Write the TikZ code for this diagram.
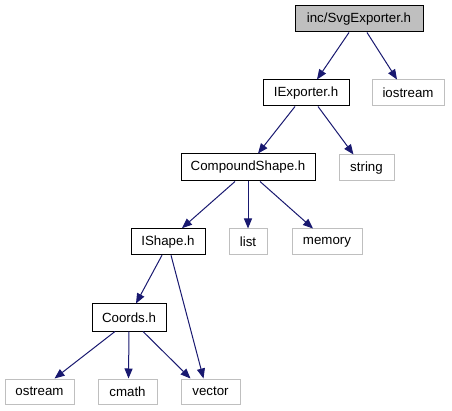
\documentclass[tikz,border=0pt]{standalone}
\usepackage{fontspec}
\setmainfont{Liberation Sans}
\usetikzlibrary{arrows.meta}
\definecolor{edgeblue}{HTML}{191970}
\definecolor{sysgray}{HTML}{BFBFBF}
\begin{document}
\begin{tikzpicture}[x=1pt,y=-1pt,
  box/.style={draw=black,line width=1pt,inner sep=0pt,minimum height=26pt,font=\fontsize{13.3}{15}\selectfont,text=black},
  sysbox/.style={box,draw=sysgray},
  topbox/.style={box,fill=sysgray},
  edge/.style={draw=edgeblue,line width=1pt,-{Triangle[length=10pt,width=8pt]}}]
\useasboundingbox (0,0) rectangle (452,411);
\node[topbox,minimum width=128pt] (svg) at (359,19) {inc/SvgExporter.h};
\node[box,minimum width=86pt] (iexp) at (306,93) {IExporter.h};
\node[sysbox,minimum width=72pt] (iostream) at (408,93) {iostream};
\node[box,minimum width=134pt,minimum height=27pt] (comp) at (248,167.5) {CompoundShape.h};
\node[sysbox,minimum width=55pt] (string) at (366.5,168) {string};
\node[box,minimum width=74pt] (ishape) at (168,241.7) {IShape.h};
\node[sysbox,minimum width=38pt] (list) at (248,242) {list};
\node[sysbox,minimum width=70pt] (memory) at (327,242) {memory};
\node[box,minimum width=74pt,minimum height=27pt] (coords) at (129,317.5) {Coords.h};
\node[sysbox,minimum width=69pt,minimum height=25pt] (ostream) at (39.5,391.5) {ostream};
\node[sysbox,minimum width=59pt,minimum height=25pt] (cmath) at (127.5,391.5) {cmath};
\node[sysbox,minimum width=59pt,minimum height=25pt] (vector) at (210.5,391.5) {vector};
\draw[edge] ([xshift=-10pt]svg.south) -- ([xshift=11pt]iexp.north);
\draw[edge] ([xshift=8pt]svg.south) -- ([xshift=-11pt]iostream.north);
\draw[edge] ([xshift=-11pt]iexp.south) -- ([xshift=10pt]comp.north);
\draw[edge] ([xshift=12pt]iexp.south) -- ([xshift=-13pt]string.north);
\draw[edge] ([xshift=-13pt]comp.south) -- ([xshift=14pt]ishape.north);
\draw[edge] (comp.south) -- (list.north);
\draw[edge] ([xshift=12pt]comp.south) -- ([xshift=-14pt]memory.north);
\draw[edge] ([xshift=-6pt]ishape.south) -- ([xshift=7pt]coords.north);
\draw[edge] ([xshift=3pt]ishape.south) -- ([xshift=-7pt]vector.north);
\draw[edge] ([xshift=-14pt]coords.south) -- ([xshift=15pt]ostream.north);
\draw[edge] (coords.south) -- ([xshift=1pt]cmath.north);
\draw[edge] ([xshift=14pt]coords.south) -- ([xshift=-20pt]vector.north);
\end{tikzpicture}
\end{document}
